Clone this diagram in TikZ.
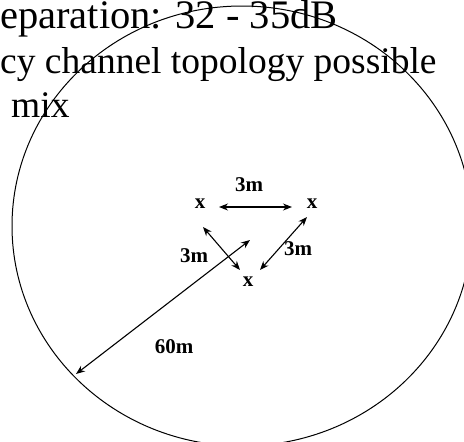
\documentclass[tikz,border=0pt]{standalone}
\usepackage{fontspec}
\setmainfont{Liberation Serif}
\usetikzlibrary{arrows.meta}
\begin{document}
\begin{tikzpicture}[x=1pt,y=-1pt,
  big/.style={font=\fontsize{37.5}{44}\selectfont, inner sep=0, anchor=base west},
  lbl/.style={font=\fontsize{21}{24}\selectfont\bfseries, inner sep=0},
  dbl/.style={line width=1.1pt, {Stealth[length=9pt,width=7pt]}-{Stealth[length=9pt,width=7pt]}}]
\useasboundingbox (0,0) rectangle (464,442);
\clip (0,0) rectangle (464,442);
\fill[white] (0,0) rectangle (464,442);
% texts
\node[big, font=\fontsize{40.5}{44}\selectfont] (l1) at (0,28) {eparation: 32 - 35dB};
\node[big] (l2) at (0,73) {cy channel topology possible};
\node[big] (l3) at (11,117) {mix};
% circle
\draw[line width=1pt] (242,226) ellipse [x radius=230, y radius=220];
% stations
\node[lbl] (xa) at (200,203.5) {x};
\node[lbl] (xb) at (312,203.5) {x};
\node[lbl] (xc) at (248,282) {x};
% labels
\node[lbl] (m1) at (249,185) {3m};
\node[lbl] (m2) at (194,256) {3m};
\node[lbl] (m3) at (298,249) {3m};
\node[lbl] (m4) at (174,347) {60m};
% arrow ends
\coordinate (h1) at (219,207);
\coordinate (h2) at (292,207);
\coordinate (d1) at (203,227);
\coordinate (d2) at (240,270);
\coordinate (e1) at (307,217);
\coordinate (e2) at (260,270);
\coordinate (r1) at (250,240);
\coordinate (r2) at (76,374);
\draw[dbl] (h1) -- (h2);
\draw[dbl] (d1) -- (d2);
\draw[dbl] (e1) -- (e2);
\draw[dbl] (r1) -- (r2);
\end{tikzpicture}
\end{document}
